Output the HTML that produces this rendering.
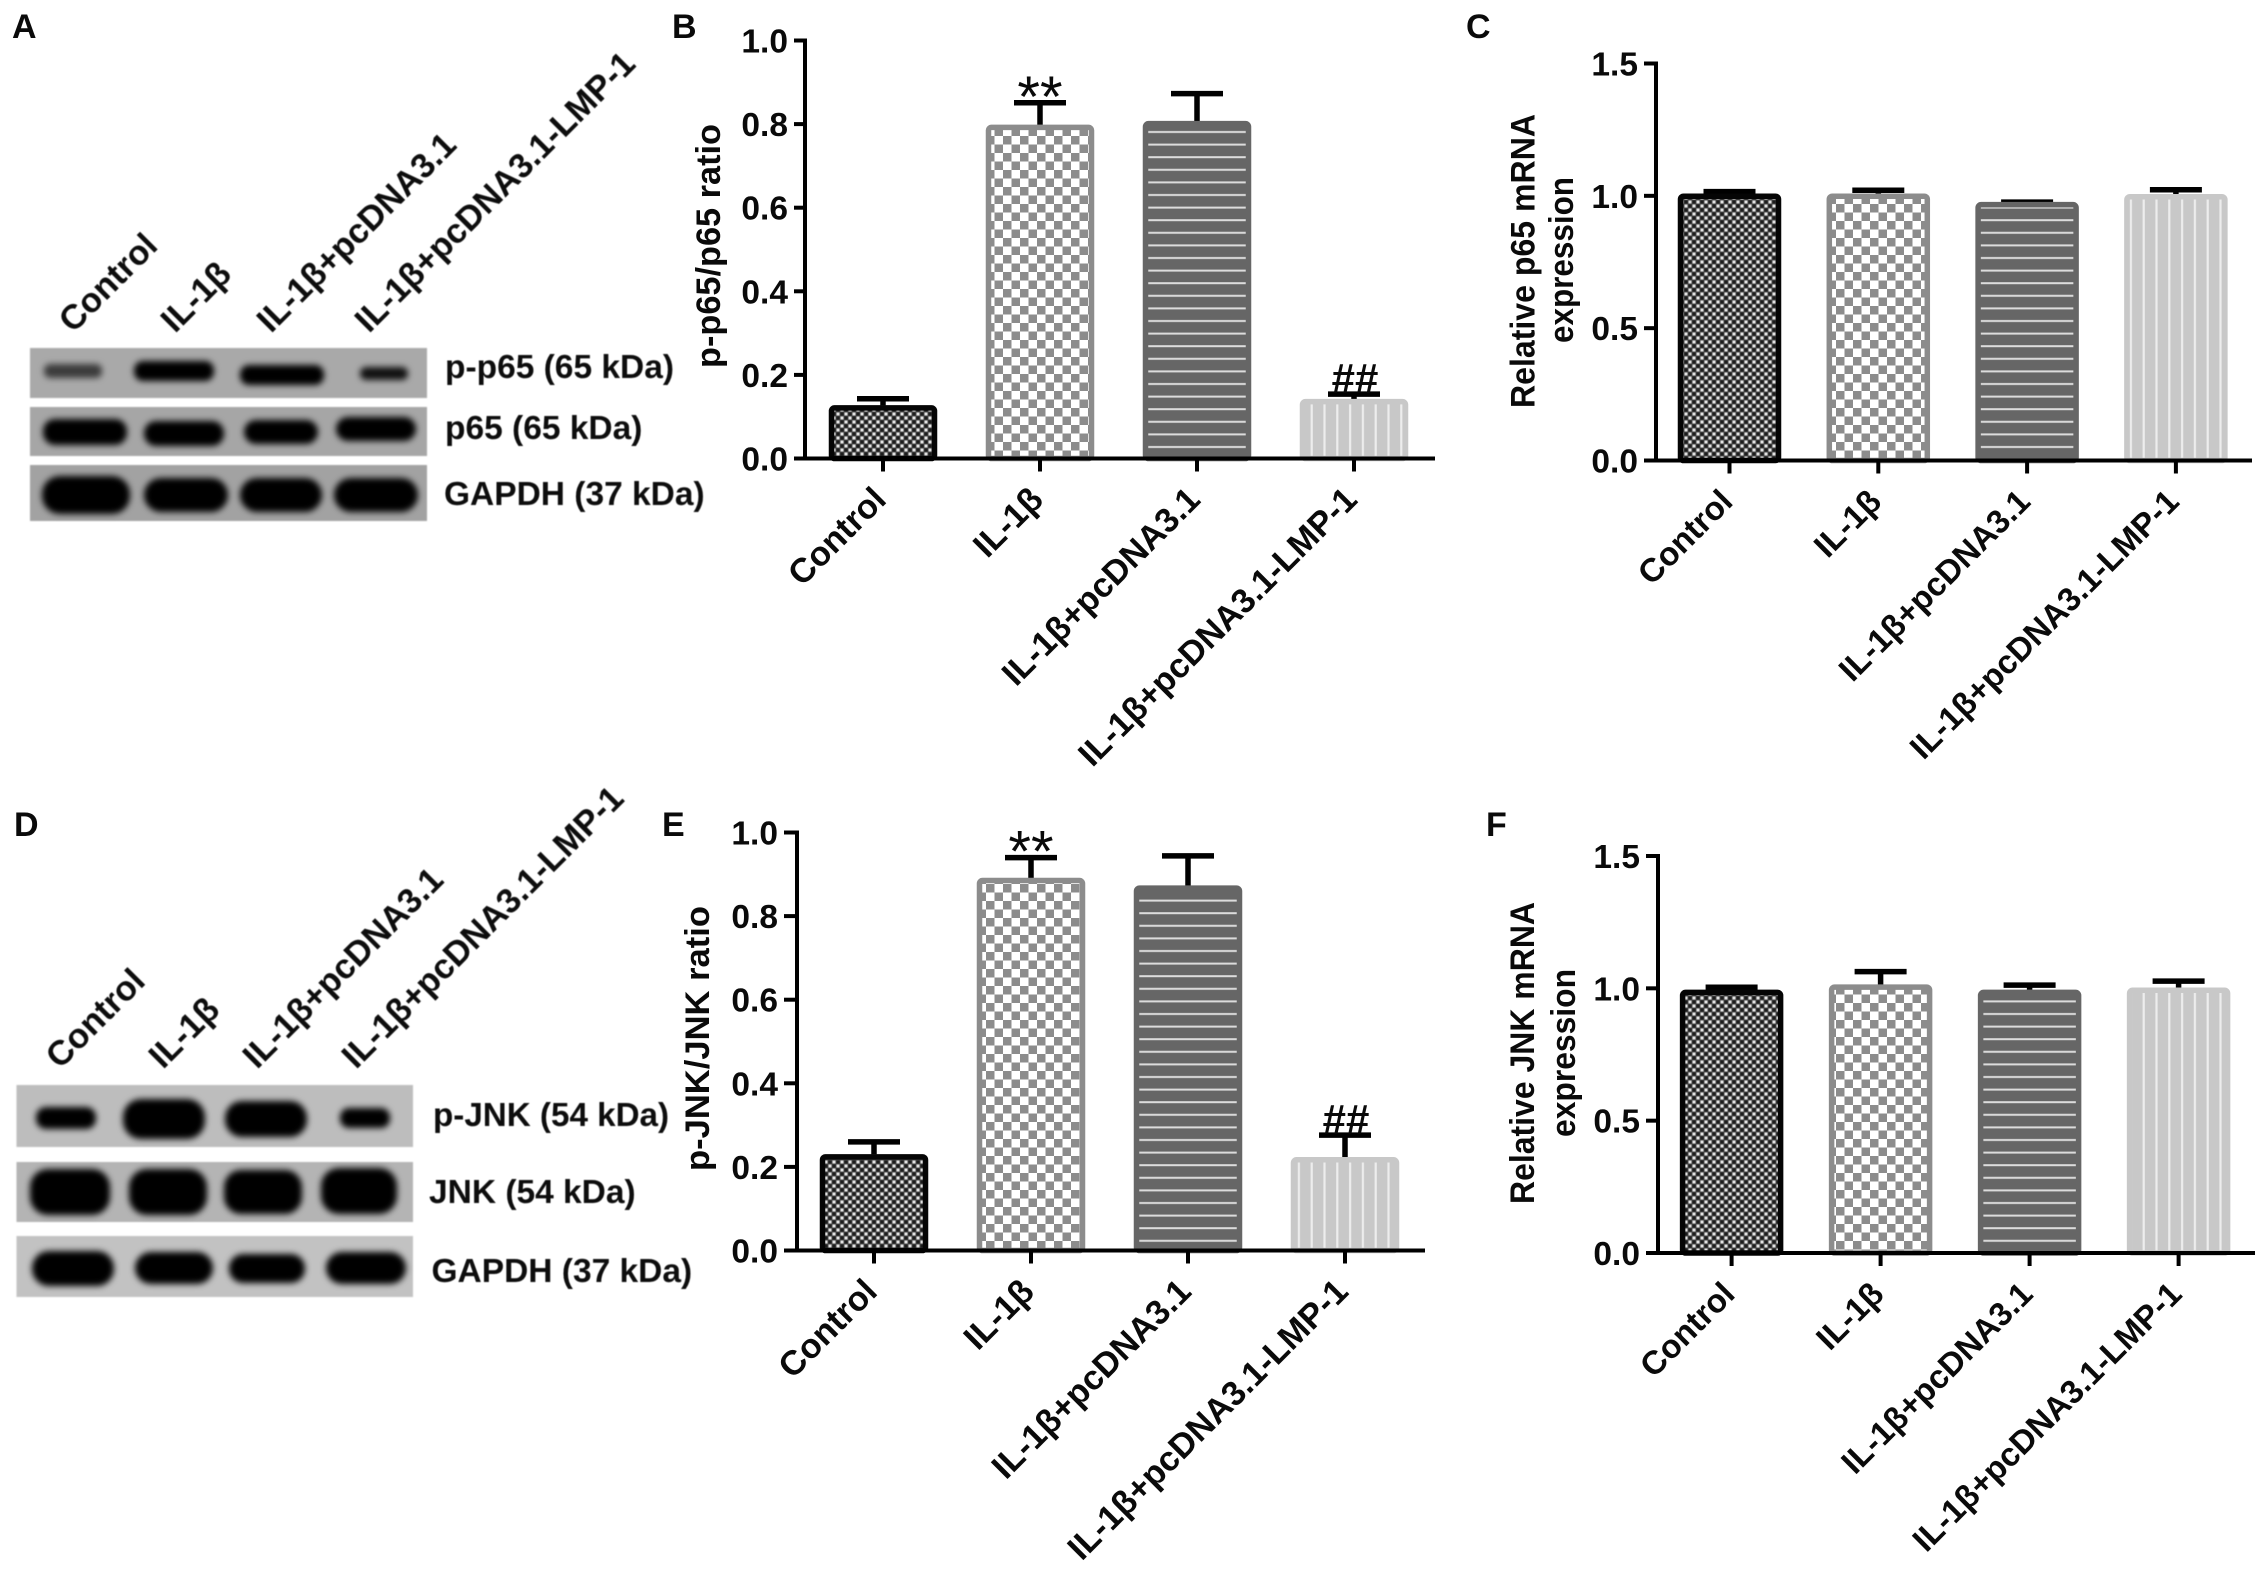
<!DOCTYPE html>
<html lang="en">
<head>
<meta charset="utf-8">
<title>p65 and JNK expression figure</title>
<style>
html,body{margin:0;padding:0;background:#fff;}
svg{display:block;}
text{font-family:"Liberation Sans","DejaVu Sans",sans-serif;font-weight:bold;fill:#0a0a0a;}
</style>
</head>
<body>
<svg id="figure" xmlns="http://www.w3.org/2000/svg" width="2268" height="1571" viewBox="0 0 2268 1571">
<defs>
<filter id="bandBlur" x="-30%" y="-60%" width="160%" height="220%"><feGaussianBlur stdDeviation="3.2"/></filter>
<filter id="edgeBlur" x="-2%" y="-5%" width="104%" height="110%"><feGaussianBlur stdDeviation="0.9"/></filter>
<filter id="textBlur" x="-5%" y="-5%" width="110%" height="110%"><feGaussianBlur stdDeviation="0.6"/></filter>
<pattern id="pat-dense" patternUnits="userSpaceOnUse" width="8" height="8">
<rect width="8" height="8" fill="#4a4a4a"/>
<rect x="0.5" y="0.5" width="3" height="3" fill="#e2e2e2"/>
<rect x="4.5" y="4.5" width="3" height="3" fill="#e2e2e2"/>
<rect x="4.5" y="0.5" width="3" height="3" fill="#1c1c1c"/>
<rect x="0.5" y="4.5" width="3" height="3" fill="#1c1c1c"/>
</pattern>
<pattern id="pat-coarse" patternUnits="userSpaceOnUse" width="17" height="17">
<rect width="17" height="17" fill="#fff"/>
<rect x="0" y="0" width="8.5" height="8.5" fill="#8c8c8c"/>
<rect x="8.5" y="8.5" width="8.5" height="8.5" fill="#8c8c8c"/>
</pattern>
<pattern id="pat-hstripe" patternUnits="userSpaceOnUse" width="20" height="12.6">
<rect width="20" height="12.6" fill="#666"/>
<rect x="0" y="5" width="20" height="2" fill="#dcdcdc"/>
</pattern>
<pattern id="pat-vstripe" patternUnits="userSpaceOnUse" width="12.8" height="20">
<rect width="12.8" height="20" fill="#c8c8c8"/>
<rect x="5" y="0" width="2.2" height="20" fill="#ededed"/>
</pattern>
</defs>
<rect width="2268" height="1571" fill="#fff"/>

<g>
<text x="12" y="38" style="font-size:34px">A</text>
<text x="672" y="38" style="font-size:34px">B</text>
<text x="1466" y="38" style="font-size:34px">C</text>
<text x="14" y="836" style="font-size:34px">D</text>
<text x="662" y="836" style="font-size:34px">E</text>
<text x="1486" y="836" style="font-size:34px">F</text>
</g>

<g>
<g filter="url(#edgeBlur)">
<rect x="30" y="348" width="397" height="50" fill="#a9a9a9"/>
<rect x="30" y="407" width="397" height="49" fill="#a6a6a6"/>
<rect x="30" y="465" width="397" height="56" fill="#a2a2a2"/>
</g>
<g filter="url(#bandBlur)" fill="#000">
<rect x="44" y="364" width="58" height="14" rx="6" opacity="0.65"/>
<rect x="134" y="361" width="80" height="20" rx="9"/>
<rect x="240" y="365" width="84" height="20" rx="9"/>
<rect x="360" y="367" width="48" height="13" rx="6" opacity="0.9"/>
<rect x="43" y="419" width="84" height="26" rx="12"/>
<rect x="144" y="421" width="80" height="25" rx="12"/>
<rect x="244" y="420" width="74" height="24" rx="12"/>
<rect x="336" y="417" width="80" height="24" rx="12"/>
<rect x="42" y="476" width="88" height="38" rx="18"/>
<rect x="144" y="478" width="84" height="34" rx="17"/>
<rect x="240" y="478" width="82" height="34" rx="17"/>
<rect x="334" y="478" width="84" height="34" rx="17"/>
</g>
<g filter="url(#textBlur)">
<text transform="translate(73 334) rotate(-45)" style="font-size:34.4px">Control</text>
<text transform="translate(175 334) rotate(-45)" style="font-size:34.4px">IL-1β</text>
<text transform="translate(271 334) rotate(-45)" style="font-size:34.4px">IL-1β+pcDNA3.1</text>
<text transform="translate(369 334) rotate(-45)" style="font-size:34.4px">IL-1β+pcDNA3.1-LMP-1</text>
<text x="445" y="378" style="font-size:33.5px">p-p65 (65 kDa)</text>
<text x="445" y="439" style="font-size:33.5px">p65 (65 kDa)</text>
<text x="444" y="505" style="font-size:33.5px">GAPDH (37 kDa)</text>
</g>
</g>

<g>
<g filter="url(#edgeBlur)">
<rect x="16.5" y="1085" width="396.5" height="62" fill="#bdbdbd"/>
<rect x="16.5" y="1162" width="396.5" height="60" fill="#b4b4b4"/>
<rect x="16.5" y="1236" width="396.5" height="61" fill="#c2c2c2"/>
</g>
<g filter="url(#bandBlur)" fill="#000">
<rect x="36" y="1107" width="60" height="22" rx="10"/>
<rect x="123" y="1099" width="82" height="40" rx="18"/>
<rect x="225" y="1101" width="82" height="36" rx="17"/>
<rect x="340" y="1108" width="50" height="20" rx="9"/>
<rect x="30" y="1169" width="80" height="46" rx="18"/>
<rect x="129" y="1169" width="78" height="46" rx="18"/>
<rect x="224" y="1170" width="78" height="44" rx="17"/>
<rect x="321" y="1168" width="76" height="46" rx="18"/>
<rect x="32" y="1251" width="82" height="35" rx="17"/>
<rect x="135" y="1252" width="78" height="32" rx="16"/>
<rect x="229" y="1254" width="76" height="29" rx="14"/>
<rect x="326" y="1252" width="80" height="32" rx="16"/>
</g>
<g filter="url(#textBlur)">
<text transform="translate(60 1070) rotate(-45)" style="font-size:34.6px">Control</text>
<text transform="translate(163 1070) rotate(-45)" style="font-size:34.6px">IL-1β</text>
<text transform="translate(257 1070) rotate(-45)" style="font-size:34.6px">IL-1β+pcDNA3.1</text>
<text transform="translate(356 1070) rotate(-45)" style="font-size:34.6px">IL-1β+pcDNA3.1-LMP-1</text>
<text x="433" y="1126" style="font-size:33.2px">p-JNK (54 kDa)</text>
<text x="429" y="1203" style="font-size:33.5px">JNK (54 kDa)</text>
<text x="431.5" y="1282" style="font-size:33.5px">GAPDH (37 kDa)</text>
</g>
</g>
</svg>

<script>
// Shared data
const categories = ['Control', 'IL-1β', 'IL-1β+pcDNA3.1', 'IL-1β+pcDNA3.1-LMP-1'];
const ratioTicks = [0, 0.2, 0.4, 0.6, 0.8, 1.0];
const ratioTickLabels = ['0.0', '0.2', '0.4', '0.6', '0.8', '1.0'];
const mrnaTicks = [0, 0.5, 1.0, 1.5];
const mrnaTickLabels = ['0.0', '0.5', '1.0', '1.5'];

// Panel B
const pP65Means = [0.127, 0.798, 0.807, 0.142];
const pP65Errors = [0.016, 0.053, 0.066, 0.012];
const pP65Marks = ['', '**', '', '##'];
// Panel C
const p65MrnaMeans = [1.008, 1.008, 0.976, 1.006];
const p65MrnaErrors = [0.008, 0.013, 0.0, 0.017];
// Panel E
const pJnkMeans = [0.23, 0.891, 0.873, 0.223];
const pJnkErrors = [0.03, 0.049, 0.071, 0.053];
const pJnkMarks = ['', '**', '', '##'];
// Panel F
const jnkMrnaMeans = [0.994, 1.014, 0.994, 1.002];
const jnkMrnaErrors = [0.01, 0.049, 0.018, 0.025];

const barStyles = [
  { fill: 'url(#pat-dense)', stroke: '#050505' },
  { fill: 'url(#pat-coarse)', stroke: '#8c8c8c' },
  { fill: 'url(#pat-hstripe)', stroke: '#666666' },
  { fill: 'url(#pat-vstripe)', stroke: '#c8c8c8' }
];

const NS = 'http://www.w3.org/2000/svg';
const figure = document.getElementById('figure');

function mk(tag, attrs, parent) {
  const el = document.createElementNS(NS, tag);
  for (const k in attrs) el.setAttribute(k, attrs[k]);
  parent.appendChild(el);
  return el;
}

function drawBarChart(cfg) {
  const g = mk('g', {}, figure);
  
  

  const yScale = v => cfg.y0 - (cfg.y0 - cfg.yTop) * v / cfg.vmax;
  const xScale = i => cfg.first + cfg.step * i;

  // bars and error bars
  cfg.means.forEach((m, i) => {
    const cx = xScale(i);
    const top = yScale(m);
    const errTop = yScale(m + cfg.errors[i]);

    const stem = mk('line', { x1: cx, x2: cx, y1: top, y2: errTop, stroke: '#000', 'stroke-width': 5.5 }, g);
    
    

    const cap = mk('line', { x1: cx - 26, x2: cx + 26, y1: errTop, y2: errTop, stroke: '#000', 'stroke-width': 5.5 }, g);
    
    

    const st = barStyles[i];
    const bar = mk('rect', {
      x: cx - cfg.barW / 2 + 2.5, y: top + 2.5,
      width: cfg.barW - 5, height: Math.max(cfg.y0 - top - 2.5, 0),
      rx: 3, fill: st.fill, stroke: st.stroke, 'stroke-width': 5.5
    }, g);
    
    

    if (cfg.marks && cfg.marks[i]) {
      const isStar = cfg.marks[i] === '**';
      const mark = mk('text', {
        x: cx + (isStar ? 0 : 1), y: errTop + (isStar ? 14 : -1), 'text-anchor': 'middle',
        style: 'font-weight:' + (isStar ? 'normal' : 'bold') + ';font-size:' + (isStar ? 58 : 42) + 'px'
      }, g);
      mark.textContent = cfg.marks[i];
      
      
    }
  });

  // axes
  const yAxis = mk('line', { x1: cfg.axisX, x2: cfg.axisX, y1: cfg.yTop - 2, y2: cfg.y0 + 2, stroke: '#000', 'stroke-width': 4 }, g);
  
  

  const xAxis = mk('line', { x1: cfg.xLeft, x2: cfg.xRight, y1: cfg.y0, y2: cfg.y0, stroke: '#000', 'stroke-width': 4 }, g);
  
  

  // y ticks
  cfg.ticks.forEach((t, i) => {
    const y = yScale(t);
    const tick = mk('line', { x1: cfg.xLeft, x2: cfg.axisX, y1: y, y2: y, stroke: '#000', 'stroke-width': 4 }, g);
    
    

    const label = mk('text', { x: cfg.xLeft - 6, y: y + 12, 'text-anchor': 'end', style: 'font-size:33.5px' }, g);
    label.textContent = cfg.tickLabels[i];
    
    
  });

  // x ticks and category labels
  categories.forEach((c, i) => {
    const cx = xScale(i);
    const tick = mk('line', { x1: cx, x2: cx, y1: cfg.y0, y2: cfg.y0 + 13, stroke: '#000', 'stroke-width': 4 }, g);
    
    

    const lx = cx + 5;
    const ly = cfg.y0 + 43;
    const label = mk('text', {
      transform: 'translate(' + lx + ' ' + ly + ') rotate(-45)',
      'text-anchor': 'end', style: 'font-size:' + cfg.labelFont + 'px'
    }, g);
    label.textContent = c;
    
    
  });

  // y axis titles
  cfg.titles.forEach((t, i) => {
    const title = mk('text', {
      transform: 'translate(' + t.x + ' ' + t.y + ') rotate(-90)',
      textLength: t.len, lengthAdjust: 'spacingAndGlyphs', style: 'font-size:34px'
    }, g);
    title.textContent = t.text;
    
    
  });
}

drawBarChart({
  id: 'panel-b', means: pP65Means, errors: pP65Errors, marks: pP65Marks,
  ticks: ratioTicks, tickLabels: ratioTickLabels, vmax: 1,
  axisX: 805, yTop: 40.5, y0: 458.5, xLeft: 794, xRight: 1435,
  first: 883, step: 157, barW: 108, labelFont: 34.2,
  titles: [{ text: 'p-p65/p65 ratio', x: 720, y: 368, len: 244 }]
});
drawBarChart({
  id: 'panel-c', means: p65MrnaMeans, errors: p65MrnaErrors,
  ticks: mrnaTicks, tickLabels: mrnaTickLabels, vmax: 1.5,
  axisX: 1656, yTop: 63.5, y0: 460.5, xLeft: 1644, xRight: 2252,
  first: 1729.5, step: 148.8, barW: 103, labelFont: 33,
  titles: [
    { text: 'Relative p65 mRNA', x: 1534.5, y: 408, len: 294 },
    { text: 'expression', x: 1573, y: 343, len: 166 }
  ]
});
drawBarChart({
  id: 'panel-e', means: pJnkMeans, errors: pJnkErrors, marks: pJnkMarks,
  ticks: ratioTicks, tickLabels: ratioTickLabels, vmax: 1,
  axisX: 797, yTop: 832.5, y0: 1250.5, xLeft: 784, xRight: 1425,
  first: 874, step: 157, barW: 108, labelFont: 34.4,
  titles: [{ text: 'p-JNK/JNK ratio', x: 709, y: 1171, len: 265 }]
});
drawBarChart({
  id: 'panel-f', means: jnkMrnaMeans, errors: jnkMrnaErrors,
  ticks: mrnaTicks, tickLabels: mrnaTickLabels, vmax: 1.5,
  axisX: 1658, yTop: 856, y0: 1253, xLeft: 1646, xRight: 2255,
  first: 1731.6, step: 149, barW: 103, labelFont: 33,
  titles: [
    { text: 'Relative JNK mRNA', x: 1534, y: 1204, len: 302 },
    { text: 'expression', x: 1575, y: 1137, len: 168 }
  ]
});
</script>
</body>
</html>
